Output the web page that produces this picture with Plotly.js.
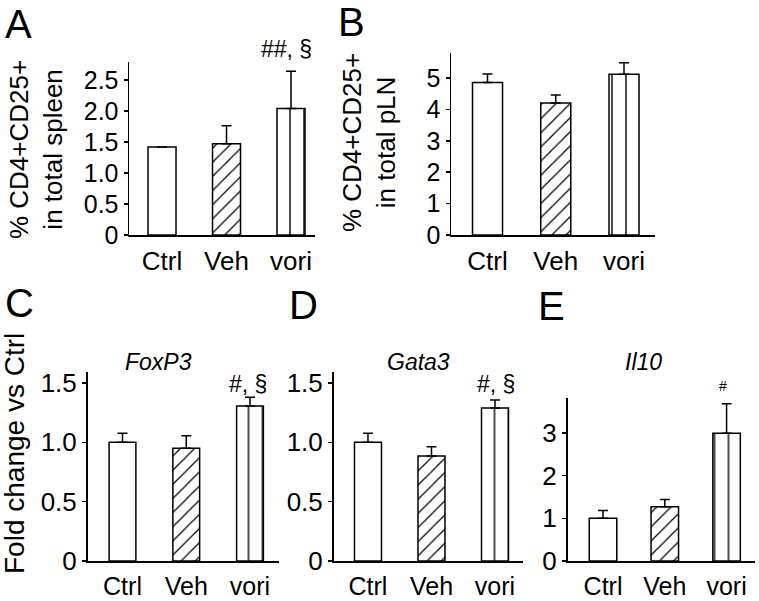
<!DOCTYPE html>
<html>
<head>
<meta charset="utf-8">
<script src="https://cdn.plot.ly/plotly-3.0.1.min.js"></script>
<style>html,body{margin:0;padding:0;background:#fff;}#chart{width:759px;height:601px;}</style>
</head>
<body>
<div id="chart"></div>
<script>
// ---- data ----
const categories = ['Ctrl', 'Veh', 'vori'];
const spleenMean = [1.42, 1.47, 2.04];
const spleenSem  = [0, 0.29, 0.60];
const plnMean    = [4.86, 4.21, 5.12];
const plnSem     = [0.27, 0.25, 0.37];
const foxp3Mean  = [1.00, 0.95, 1.306];
const foxp3Sem   = [0.076, 0.106, 0.074];
const gata3Mean  = [1.00, 0.885, 1.289];
const gata3Sem   = [0.076, 0.078, 0.067];
const il10Mean   = [1.00, 1.27, 2.99];
const il10Sem    = [0.18, 0.17, 0.69];
const ticksA = [0, 0.5, 1, 1.5, 2, 2.5], ticksAText = ['0', '0.5', '1.0', '1.5', '2.0', '2.5'];
const ticksB = [0, 1, 2, 3, 4, 5], ticksBText = ['0', '1', '2', '3', '4', '5'];
const ticksCD = [0, 0.5, 1, 1.5], ticksCDText = ['0', '0.5', '1.0', '1.5'];
const ticksE = [0, 1, 2, 3], ticksEText = ['0', '1', '2', '3'];

// ---- layout helpers ----
const W = 759, H = 601;
const FONT = 'Liberation Sans, Arial, sans-serif';
const px = x => x / W;
const py = y => 1 - y / H;
const patterns = ['', '/', '|'];

function barTrace(y, err, n, width) {
  return {
    type: 'bar', x: categories, y: y,
    xaxis: 'x' + (n === 1 ? '' : n), yaxis: 'y' + (n === 1 ? '' : n),
    width: width,
    marker: {
      color: '#ffffff',
      line: {color: '#000000', width: 1.5},
      pattern: {shape: patterns, fgcolor: '#000000', fgopacity: 1, bgcolor: '#ffffff',
                size: [8, 10, 14], solidity: [0.1, 0.12, 0.1], fillmode: 'replace'}
    },
    error_y: {type: 'data', symmetric: false, array: err, arrayminus: [0, 0, 0], color: '#000000', thickness: 1.5, width: 5},
    showlegend: false, hoverinfo: 'skip'
  };
}

function xAxis(domain, range, anchor, fs) {
  return {domain: domain, range: range, anchor: anchor, showline: true, linecolor: '#000', linewidth: 1.5,
    ticks: '', showgrid: false, zeroline: false, fixedrange: true,
    tickfont: {family: FONT, size: fs, color: '#000'}, ticklabelstandoff: 2};
}
function yAxis(domain, range, anchor, tv, tt, fs) {
  return {domain: domain, range: range, anchor: anchor, showline: true, linecolor: '#000', linewidth: 1.5,
    ticks: 'outside', ticklen: 4, tickwidth: 1.5, tickcolor: '#000', tickvals: tv, ticktext: tt,
    showgrid: false, zeroline: false, fixedrange: true,
    tickfont: {family: FONT, size: fs, color: '#000'}};
}

const data = [
  barTrace(spleenMean, spleenSem, 1, 0.434),
  barTrace(plnMean, plnSem, 2, 0.44),
  barTrace(foxp3Mean, foxp3Sem, 3, 0.42),
  barTrace(gata3Mean, gata3Sem, 4, 0.425),
  barTrace(il10Mean, il10Sem, 5, 0.445)
];

function ann(text, x, y, size, extra) {
  return Object.assign({text: text, x: px(x), y: py(y), xref: 'paper', yref: 'paper', showarrow: false,
    xanchor: 'center', yanchor: 'middle', font: {family: FONT, size: size, color: '#000'}}, extra || {});
}

const layout = {
  width: W, height: H,
  margin: {l: 0, r: 0, t: 0, b: 0},
  paper_bgcolor: '#fff', plot_bgcolor: '#fff',
  xaxis:  xAxis([px(129), px(315)], [-0.512, 2.372], 'y', 26),
  yaxis:  yAxis([py(235), py(62)], [0, 2.79], 'x', ticksA, ticksAText, 25),
  xaxis2: xAxis([px(451), px(655)], [-0.535, 2.454], 'y2', 26),
  yaxis2: yAxis([py(235), py(53)], [0, 5.8], 'x2', ticksB, ticksBText, 25),
  xaxis3: xAxis([px(87.5), px(279)], [-0.549, 2.455], 'y3', 25),
  yaxis3: yAxis([py(561), py(371.7)], [0, 1.595], 'x3', ticksCD, ticksCDText, 26),
  xaxis4: xAxis([px(333.5), px(523)], [-0.543, 2.441], 'y4', 25),
  yaxis4: yAxis([py(561), py(371.7)], [0, 1.595], 'x4', ticksCD, ticksCDText, 26),
  xaxis5: xAxis([px(567.5), px(755)], [-0.575, 2.46], 'y5', 25),
  yaxis5: yAxis([py(561), py(398.3)], [0, 3.81], 'x5', ticksE, ticksEText, 26),
  annotations: [
    ann('A', 18, 24, 40), ann('B', 351, 22, 40), ann('C', 19, 303, 40), ann('D', 303, 305, 40), ann('E', 551, 306, 40),
    ann('% CD4+CD25+<br>in total spleen', 36, 150, 26, {textangle: -90}),
    ann('% CD4+CD25+<br>in total pLN', 369, 143, 26, {textangle: -90}),
    ann('Fold change vs Ctrl', 14, 454, 28, {textangle: -90}),
    ann('<i>FoxP3</i>', 158, 362, 23), ann('<i>Gata3</i>', 418, 362, 23), ann('<i>Il10</i>', 643, 362, 23),
    ann('##, §', 286, 49, 23), ann('#, §', 248, 384, 23), ann('#, §', 496, 384, 23), ann('#', 723, 386, 14)
  ]
};

Plotly.newPlot('chart', data, layout, {staticPlot: true, displayModeBar: false});
</script>
</body>
</html>
